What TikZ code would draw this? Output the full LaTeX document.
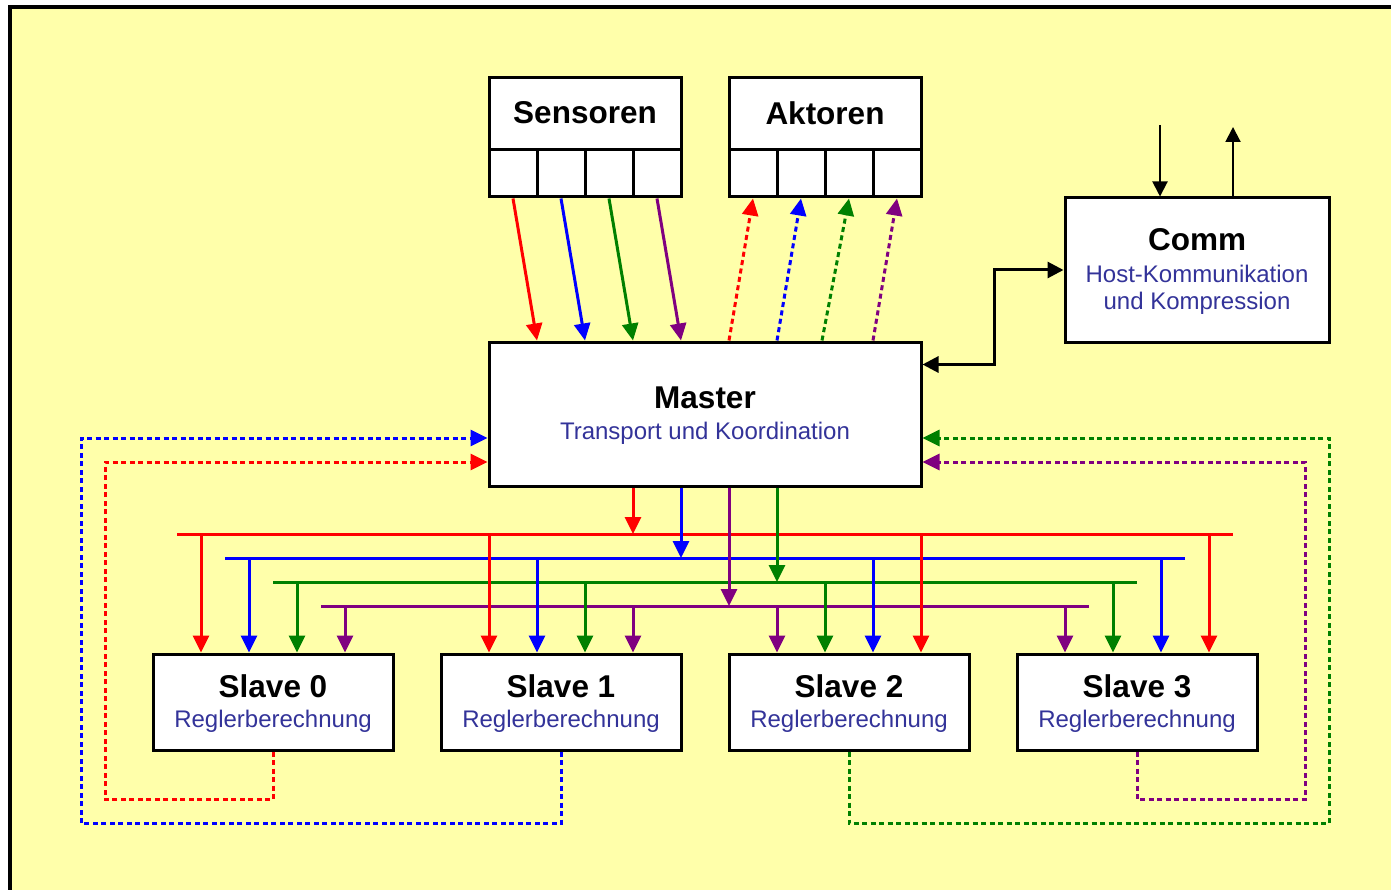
\documentclass[tikz,border=0pt]{standalone}
\usepackage{fontspec}
\setmainfont{Liberation Sans}
\usetikzlibrary{arrows.meta}
\definecolor{bg}{RGB}{255,255,170}
\definecolor{subc}{RGB}{51,51,153}
\definecolor{cred}{RGB}{255,0,0}
\definecolor{cblue}{RGB}{0,0,255}
\definecolor{cgreen}{RGB}{0,128,0}
\definecolor{cpurple}{RGB}{128,0,128}
\tikzset{
  box/.style={draw=black, line width=3pt, fill=white, inner sep=0pt},
  ttl/.style={font=\fontsize{31.5}{36}\selectfont\bfseries, inner sep=0pt},
  subt/.style={font=\fontsize{24}{29}\selectfont, text=subc, inner sep=0pt, align=center},
  arr/.style={line width=3pt, -{Triangle[length=17pt,width=16pt]}},
  barr/.style={line width=3pt, {Triangle[length=16pt,width=16pt]}-{Triangle[length=16pt,width=16pt]}},
  blk/.style={line width=2pt, -{Triangle[length=15pt,width=15pt]}},
  bus/.style={line width=3pt},
  dsh/.style={dash pattern=on 5pt off 3.5pt}
}
\begin{document}
\begin{tikzpicture}[x=1pt,y=-1pt]
\clip (0,0) rectangle (1391,890);
\fill[white] (0,0) rectangle (1391,890);
\draw[line width=4pt, fill=bg] (10,7) rectangle (1430,930);

% Sensoren
\node[box, minimum width=192pt, minimum height=72pt] (sens) at (585,114) {};
\node[ttl] (senst) at (585,113) {Sensoren};
\foreach \i/\x in {1/513,2/561,3/609,4/657}{
  \node[box, minimum width=48pt, minimum height=47pt] (s\i) at (\x,173.5) {};
}
% Aktoren
\node[box, minimum width=192pt, minimum height=72pt] (akt) at (825,114) {};
\node[ttl] (aktt) at (825,113) {Aktoren};
\foreach \i/\x in {1/753,2/801,3/849,4/897}{
  \node[box, minimum width=48pt, minimum height=47pt] (a\i) at (\x,173.5) {};
}
% Comm
\node[box, minimum width=264pt, minimum height=144pt] (comm) at (1197,270) {};
\node[ttl] (commt) at (1197,240) {Comm};
\node[subt] (comms1) at (1197,274) {Host-Kommunikation};
\node[subt] (comms2) at (1197,303) {und Kompression};
% Master
\node[box, minimum width=432pt, minimum height=144pt] (master) at (705,414) {};
\node[ttl] (mastert) at (705,398) {Master};
\node[subt] (masters) at (705,433) {Transport und Koordination};
% Slaves
\foreach \i/\x in {0/273,1/561,2/849,3/1137}{
  \node[box, minimum width=240pt, minimum height=96pt] (sl\i) at (\x,702) {};
  \node[ttl] (slt\i) at (\x,686) {Slave \i};
  \node[subt] (sls\i) at (\x,721) {Reglerberechnung};
}

% Sensor arrows
\draw[arr, cred]    (s1.south) -- ([xshift=-168pt]master.north);
\draw[arr, cblue]   (s2.south) -- ([xshift=-120pt]master.north);
\draw[arr, cgreen]  (s3.south) -- ([xshift=-72pt]master.north);
\draw[arr, cpurple] (s4.south) -- ([xshift=-24pt]master.north);
% Aktor arrows
\draw[arr, dsh, cred]    ([xshift=24pt]master.north) -- (a1.south);
\draw[arr, dsh, cblue]   ([xshift=72pt]master.north) -- (a2.south);
\draw[arr, dsh, cgreen]  ([xshift=117pt]master.north) -- (a3.south);
\draw[arr, dsh, cpurple] ([xshift=168pt]master.north) -- (a4.south);

% Comm connections
\draw[barr] ([yshift=-24pt]master.north east) -- ++(72,0) |- (comm.west);
\coordinate (hin) at (1160,125);
\coordinate (hout) at (1233,127);
\draw[blk] (hin) -- (hin |- comm.north);
\draw[blk] (hout |- comm.north) -- (hout);

% Buses
\coordinate (rbL) at (177,534); \coordinate (rbR) at (1233,534);
\coordinate (bbL) at (225,558); \coordinate (bbR) at (1185,558);
\coordinate (gbL) at (273,582); \coordinate (gbR) at (1137,582);
\coordinate (pbL) at (321,606); \coordinate (pbR) at (1089,606);
\draw[bus, cred] (rbL) -- (rbR);
\draw[bus, cblue] (bbL) -- (bbR);
\draw[bus, cgreen] (gbL) -- (gbR);
\draw[bus, cpurple] (pbL) -- (pbR);
\draw[arr, cred]    ([xshift=-72pt]master.south) -- ([xshift=-72pt]master.south |- rbL);
\draw[arr, cblue]   ([xshift=-24pt]master.south) -- ([xshift=-24pt]master.south |- bbL);
\draw[arr, cpurple] ([xshift=24pt]master.south) -- ([xshift=24pt]master.south |- pbL);
\draw[arr, cgreen]  ([xshift=72pt]master.south) -- ([xshift=72pt]master.south |- gbL);

% Drops to slaves
\foreach \s in {0,1}{
  \draw[arr, cred]    ([xshift=-72pt]sl\s.north |- rbL) -- ([xshift=-72pt]sl\s.north);
  \draw[arr, cblue]   ([xshift=-24pt]sl\s.north |- bbL) -- ([xshift=-24pt]sl\s.north);
  \draw[arr, cgreen]  ([xshift=24pt]sl\s.north |- gbL) -- ([xshift=24pt]sl\s.north);
  \draw[arr, cpurple] ([xshift=72pt]sl\s.north |- pbL) -- ([xshift=72pt]sl\s.north);
}
\foreach \s in {2,3}{
  \draw[arr, cpurple] ([xshift=-72pt]sl\s.north |- pbL) -- ([xshift=-72pt]sl\s.north);
  \draw[arr, cgreen]  ([xshift=-24pt]sl\s.north |- gbL) -- ([xshift=-24pt]sl\s.north);
  \draw[arr, cblue]   ([xshift=24pt]sl\s.north |- bbL) -- ([xshift=24pt]sl\s.north);
  \draw[arr, cred]    ([xshift=72pt]sl\s.north |- rbL) -- ([xshift=72pt]sl\s.north);
}

% Feedback
\draw[arr, dsh, cred]    (sl0.south) -- ++(0,48) -| (105,462) -- ([yshift=-48pt]master.west);
\draw[arr, dsh, cblue]   (sl1.south) -- ++(0,72) -| (81,438) -- ([yshift=-24pt]master.west);
\draw[arr, dsh, cgreen]  (sl2.south) -- ++(0,72) -| (1329,438) -- ([yshift=-24pt]master.east);
\draw[arr, dsh, cpurple] (sl3.south) -- ++(0,48) -| (1305,462) -- ([yshift=-48pt]master.east);
\end{tikzpicture}
\end{document}
